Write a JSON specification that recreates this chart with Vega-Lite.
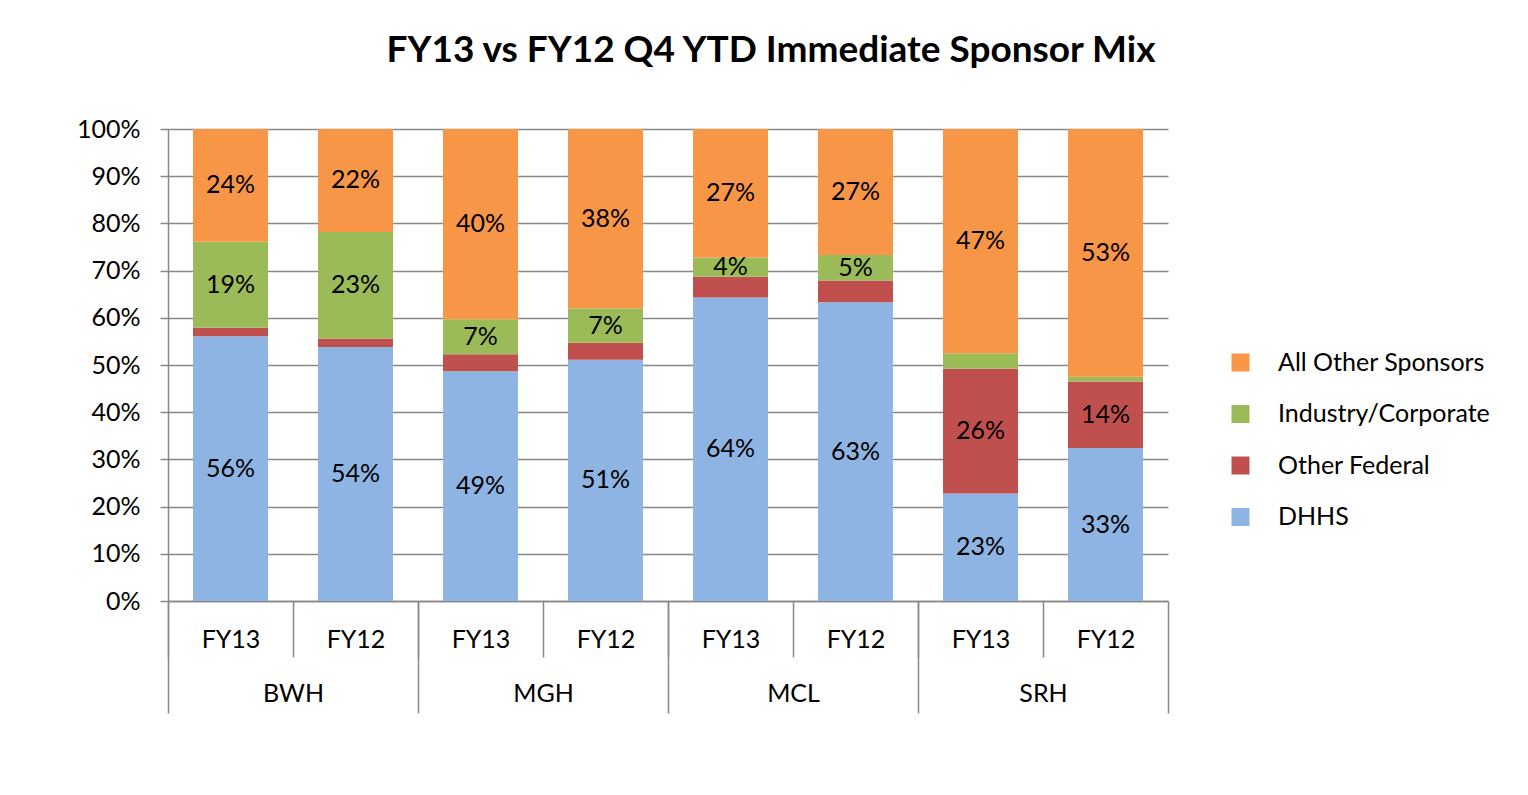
{
  "$schema": "https://vega.github.io/schema/vega-lite/v6.json",
  "width": 1000,
  "height": 472,
  "autosize": {"type": "none"},
  "padding": {"left": 168, "top": 129, "right": 360, "bottom": 194},
  "background": "white",
  "title": {
    "text": "FY13 vs FY12 Q4 YTD  Immediate Sponsor Mix",
    "font": "Lato",
    "fontSize": 37,
    "fontWeight": "bold",
    "color": "black",
    "anchor": "middle",
    "frame": "group",
    "dx": 103,
    "offset": 18,
    "baseline": "alphabetic"
  },
  "data": {
    "values": [
      {"hospital": "BWH", "bar": "BWH FY13", "sponsor": "DHHS", "value": 56.1, "label": "56%"},
      {"hospital": "BWH", "bar": "BWH FY13", "sponsor": "Other Federal", "value": 1.8, "label": ""},
      {"hospital": "BWH", "bar": "BWH FY13", "sponsor": "Industry/Corporate", "value": 18.2, "label": "19%"},
      {"hospital": "BWH", "bar": "BWH FY13", "sponsor": "All Other Sponsors", "value": 23.9, "label": "24%"},
      {"hospital": "BWH", "bar": "BWH FY12", "sponsor": "DHHS", "value": 53.8, "label": "54%"},
      {"hospital": "BWH", "bar": "BWH FY12", "sponsor": "Other Federal", "value": 1.8, "label": ""},
      {"hospital": "BWH", "bar": "BWH FY12", "sponsor": "Industry/Corporate", "value": 22.6, "label": "23%"},
      {"hospital": "BWH", "bar": "BWH FY12", "sponsor": "All Other Sponsors", "value": 21.8, "label": "22%"},
      {"hospital": "MGH", "bar": "MGH FY13", "sponsor": "DHHS", "value": 48.7, "label": "49%"},
      {"hospital": "MGH", "bar": "MGH FY13", "sponsor": "Other Federal", "value": 3.6, "label": ""},
      {"hospital": "MGH", "bar": "MGH FY13", "sponsor": "Industry/Corporate", "value": 7.4, "label": "7%"},
      {"hospital": "MGH", "bar": "MGH FY13", "sponsor": "All Other Sponsors", "value": 40.3, "label": "40%"},
      {"hospital": "MGH", "bar": "MGH FY12", "sponsor": "DHHS", "value": 51.1, "label": "51%"},
      {"hospital": "MGH", "bar": "MGH FY12", "sponsor": "Other Federal", "value": 3.6, "label": ""},
      {"hospital": "MGH", "bar": "MGH FY12", "sponsor": "Industry/Corporate", "value": 7.3, "label": "7%"},
      {"hospital": "MGH", "bar": "MGH FY12", "sponsor": "All Other Sponsors", "value": 38.0, "label": "38%"},
      {"hospital": "MCL", "bar": "MCL FY13", "sponsor": "DHHS", "value": 64.3, "label": "64%"},
      {"hospital": "MCL", "bar": "MCL FY13", "sponsor": "Other Federal", "value": 4.4, "label": ""},
      {"hospital": "MCL", "bar": "MCL FY13", "sponsor": "Industry/Corporate", "value": 4.1, "label": "4%"},
      {"hospital": "MCL", "bar": "MCL FY13", "sponsor": "All Other Sponsors", "value": 27.2, "label": "27%"},
      {"hospital": "MCL", "bar": "MCL FY12", "sponsor": "DHHS", "value": 63.3, "label": "63%"},
      {"hospital": "MCL", "bar": "MCL FY12", "sponsor": "Other Federal", "value": 4.6, "label": ""},
      {"hospital": "MCL", "bar": "MCL FY12", "sponsor": "Industry/Corporate", "value": 5.4, "label": "5%"},
      {"hospital": "MCL", "bar": "MCL FY12", "sponsor": "All Other Sponsors", "value": 26.7, "label": "27%"},
      {"hospital": "SRH", "bar": "SRH FY13", "sponsor": "DHHS", "value": 22.8, "label": "23%"},
      {"hospital": "SRH", "bar": "SRH FY13", "sponsor": "Other Federal", "value": 26.4, "label": "26%"},
      {"hospital": "SRH", "bar": "SRH FY13", "sponsor": "Industry/Corporate", "value": 3.3, "label": ""},
      {"hospital": "SRH", "bar": "SRH FY13", "sponsor": "All Other Sponsors", "value": 47.5, "label": "47%"},
      {"hospital": "SRH", "bar": "SRH FY12", "sponsor": "DHHS", "value": 32.4, "label": "33%"},
      {"hospital": "SRH", "bar": "SRH FY12", "sponsor": "Other Federal", "value": 14.1, "label": "14%"},
      {"hospital": "SRH", "bar": "SRH FY12", "sponsor": "Industry/Corporate", "value": 1.0, "label": ""},
      {"hospital": "SRH", "bar": "SRH FY12", "sponsor": "All Other Sponsors", "value": 52.5, "label": "53%"}
    ]
  },
  "transform": [
    {"calculate": "indexof(['DHHS', 'Other Federal', 'Industry/Corporate', 'All Other Sponsors'], datum.sponsor)", "as": "stackOrder"}
  ],
  "layer": [
    {
      "mark": {"type": "bar"},
      "encoding": {
        "x": {
          "field": "bar", "type": "nominal", "sort": null,
          "scale": {"paddingInner": 0.4, "paddingOuter": 0.2},
          "axis": {
            "orient": "bottom", "title": null, "grid": false,
            "bandPosition": 0, "tickOffset": -25, "labelOffset": 25,
            "tickSize": 56, "tickColor": "#888888", "tickWidth": 1.5,
            "domainColor": "#888888", "domainWidth": 1.5,
            "labelExpr": "split(datum.label, ' ')[1]",
            "labelFont": "Lato", "labelFontSize": 25, "labelColor": "black",
            "labelPadding": -30, "labelAngle": 0
          }
        },
        "y": {
          "field": "value", "type": "quantitative", "stack": "normalize",
          "scale": {"domain": [0, 1]},
          "axis": {
            "title": null, "values": [0, 0.1, 0.2, 0.3, 0.4, 0.5, 0.6, 0.7, 0.8, 0.9, 1],
            "format": ".0%", "grid": true, "gridColor": "#888888", "gridWidth": 1.5,
            "domainColor": "#888888", "domainWidth": 1.5,
            "tickColor": "#888888", "tickWidth": 1.5, "tickSize": 8,
            "labelFont": "Lato", "labelFontSize": 25, "labelColor": "black", "labelPadding": 20
          }
        },
        "order": {"field": "stackOrder", "type": "quantitative"},
        "color": {
          "field": "sponsor", "type": "nominal",
          "scale": {
            "domain": ["All Other Sponsors", "Industry/Corporate", "Other Federal", "DHHS"],
            "range": ["#F79646", "#9BBB59", "#C0504D", "#8EB4E3"]
          },
          "legend": {
            "orient": "none", "legendX": 1060, "legendY": 221, "title": null,
            "symbolType": "square", "symbolSize": 324, "symbolStrokeWidth": 0, "symbolOpacity": 1,
            "labelFont": "Lato", "labelFontSize": 25, "labelColor": "black", "labelLimit": 400,
            "labelOffset": 25, "rowPadding": 25.5, "padding": 0
          }
        }
      }
    },
    {
      "mark": {"type": "text", "font": "Lato", "fontSize": 25, "baseline": "middle", "align": "center", "color": "black"},
      "encoding": {
        "x": {
          "field": "bar", "type": "nominal", "sort": null,
          "scale": {"paddingInner": 0.4, "paddingOuter": 0.2},
          "axis": null
        },
        "y": {"field": "value", "type": "quantitative", "stack": "normalize", "bandPosition": 0.5},
        "order": {"field": "stackOrder", "type": "quantitative"},
        "detail": {"field": "sponsor", "type": "nominal"},
        "text": {"field": "label"}
      }
    },
    {
      "mark": {"type": "rule", "opacity": 0},
      "encoding": {
        "x": {
          "field": "hospital", "type": "nominal", "sort": null,
          "scale": {"paddingInner": 0, "paddingOuter": 0},
          "axis": {
            "orient": "bottom", "title": null, "grid": false, "domain": false,
            "tickBand": "extent", "tickSize": 112, "tickColor": "#888888", "tickWidth": 1.5,
            "labelFont": "Lato", "labelFontSize": 25, "labelColor": "black",
            "labelPadding": -32, "labelAngle": 0
          }
        }
      }
    }
  ],
  "resolve": {"scale": {"x": "independent"}},
  "config": {"view": {"stroke": null}}
}
